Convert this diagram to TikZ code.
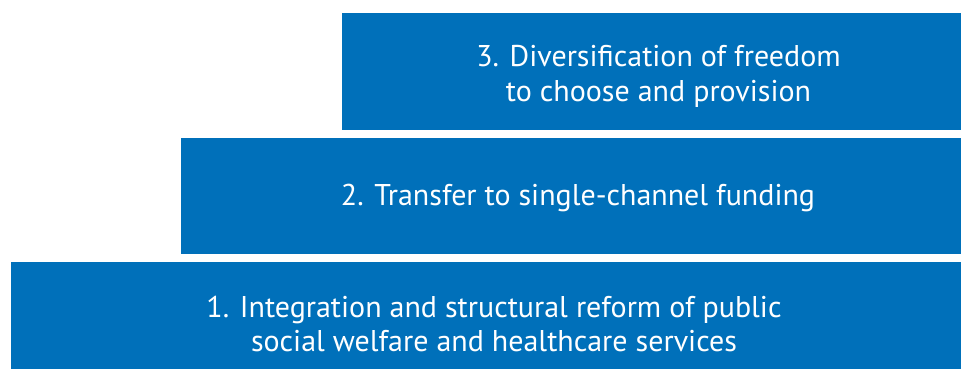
\documentclass[tikz,border=0pt]{standalone}
\usepackage{fontspec}
\setmainfont{PT Sans}
\usepackage{tikz}
\definecolor{tierblue}{RGB}{0,112,186}
\tikzset{
  tier/.style={rectangle,fill=tierblue,inner sep=0pt},
  tiertext/.style={text=white,inner sep=0pt,align=center,
    font=\fontsize{30}{34.5}\selectfont},
}

\begin{document}
\begin{tikzpicture}[x=1pt,y=-1pt]
\useasboundingbox (0,0) rectangle (961,369);
% the three steps
\node[tier,minimum width=619pt,minimum height=117pt] (level3) at (651.5,71.5) {};
\node[tier,minimum width=780pt,minimum height=116pt] (level2) at (571,196) {};
\node[tier,minimum width=950pt,minimum height=110pt] (level1) at (486,317) {};
% their texts
\node[tiertext] (text3) at ([xshift=7pt,yshift=-5pt]level3.center)
  {3. Diversification of freedom\\to choose and provision};
\node[tiertext] (text2) at ([xshift=7pt,yshift=-2pt]level2.center)
  {2. Transfer to single-channel funding};
\node[tiertext] (text1) at ([xshift=8pt,yshift=-7pt]level1.center)
  {1. Integration and structural reform of public\\social welfare and healthcare services};
\end{tikzpicture}
\end{document}
